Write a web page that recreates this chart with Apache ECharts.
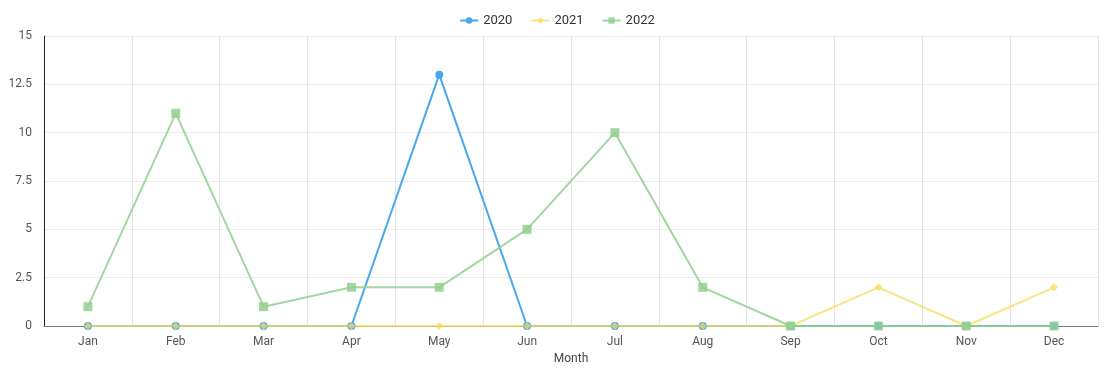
<!DOCTYPE html>
<html>
<head>
<meta charset="utf-8">
<script src="https://cdn.jsdelivr.net/npm/echarts@6/dist/echarts.min.js"></script>
<style>
    html, body { margin: 0; padding: 0; background: #fff; }
    #chart { width: 1114px; height: 379px; }
</style>
</head>
<body>
<div id="chart"></div>
<script>
    var months = ['Jan', 'Feb', 'Mar', 'Apr', 'May', 'Jun', 'Jul', 'Aug', 'Sep', 'Oct', 'Nov', 'Dec'];
    var y2020 = [0, 0, 0, 0, 13, 0, 0, 0, 0, 0, 0, 0];
    var y2021 = [0, 0, 0, 0, 0, 0, 0, 0, 0, 2, 0, 2];
    var y2022 = [1, 11, 1, 2, 2, 5, 10, 2, 0, 0, 0, 0];
    var yTicks = [0, 2.5, 5, 7.5, 10, 12.5, 15];

    var chart = echarts.init(document.getElementById('chart'));
    chart.setOption({
        textStyle: { fontFamily: 'Roboto' },
        legend: {
            top: 9,
            left: 'center',
            itemWidth: 18,
            itemHeight: 8,
            itemGap: 18,
            textStyle: { color: '#333', fontSize: 13 }
        },
        grid: { left: 44, right: 16, top: 36, bottom: 53 },
        xAxis: {
            type: 'category',
            data: months,
            name: 'Month',
            nameLocation: 'middle',
            nameGap: 25,
            nameTextStyle: { color: '#444', fontSize: 12 },
            axisLine: { lineStyle: { color: '#777' } },
            axisTick: { length: 6, lineStyle: { color: '#ccc' } },
            axisLabel: { color: '#555', fontSize: 12, margin: 10 },
            splitLine: { show: true, lineStyle: { color: '#e4e4e4' } }
        },
        yAxis: {
            type: 'value',
            min: yTicks[0],
            max: yTicks[yTicks.length - 1],
            interval: 2.5,
            axisLine: { show: true, lineStyle: { color: '#222' } },
            axisTick: { show: false },
            axisLabel: { color: '#555', fontSize: 12, margin: 12 },
            splitLine: { lineStyle: { color: '#ebebeb' } }
        },
        series: [
            {
                name: '2020', type: 'line', data: y2020,
                symbol: 'circle', symbolSize: 8,
                itemStyle: { color: '#48a7ea' },
                lineStyle: { width: 2 }
            },
            {
                name: '2021', type: 'line', data: y2021,
                symbol: 'diamond', symbolSize: 8,
                itemStyle: { color: '#f5dc5a', opacity: 0.75 },
                lineStyle: { width: 2, opacity: 0.75 }
            },
            {
                name: '2022', type: 'line', data: y2022,
                symbol: 'rect', symbolSize: 9,
                itemStyle: { color: '#93cf8f', opacity: 0.85 },
                lineStyle: { width: 2, opacity: 0.85 }
            }
        ]
    });
</script>
</body>
</html>
